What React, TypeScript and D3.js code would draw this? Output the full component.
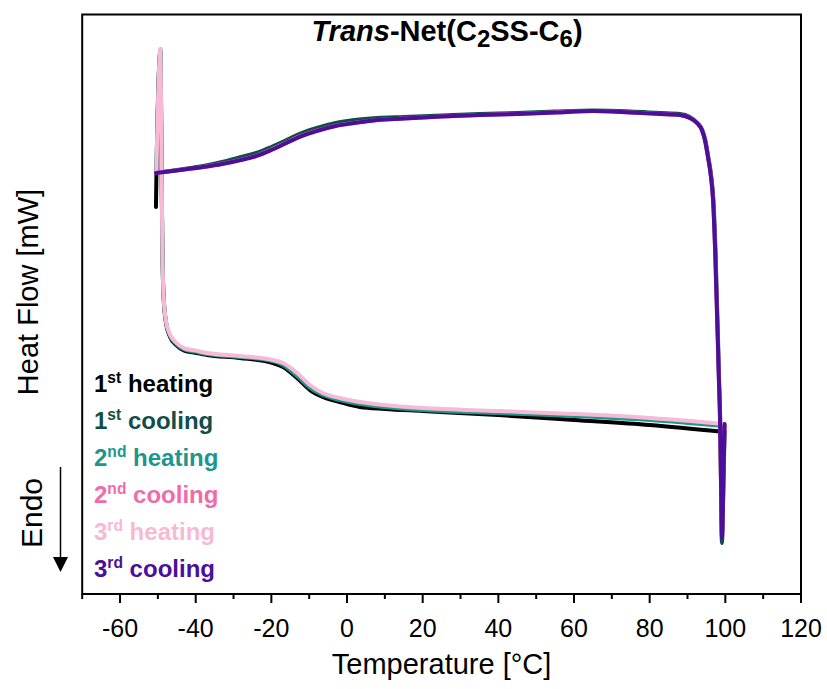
import React from "react";
import * as d3 from "d3";

// Temperature [°C] and heat flow [mW, arbitrary offset]
const heating1: [number, number][] = [
  [-50.5, 6.678], [-50.4, 7.144], [-49.3, 9.353], [-49.0, 7.196], [-48.8, 5.936], [-48.5, 5.14],
  [-47.8, 4.66], [-46.8, 4.44], [-45.2, 4.3], [-43.0, 4.2], [-40, 4.16], [-37, 4.124], [-28.3, 4.073],
  [-19.6, 3.986], [-16.9, 3.917], [-13.2, 3.727], [-9.8, 3.52], [-6.4, 3.4], [-1.9, 3.313],
  [3.4, 3.227], [10, 3.193], [20, 3.158], [40, 3.089], [60, 3.003], [80, 2.916], [99.8, 2.796],
];
const cooling1: [number, number][] = [
  [99.8, 2.796], [99.55, 2.1], [99.1, 0.88], [98.85, 1.95], [98.65, 3.0], [98.35, 3.69],
  [97.4, 5.936], [96.85, 6.8], [96.3, 7.196], [95.5, 7.541], [94.7, 7.834], [93.9, 8.007],
  [92.6, 8.128], [90.6, 8.231], [88.0, 8.283], [82.7, 8.3], [75, 8.326], [65, 8.343],
  [55, 8.326], [45, 8.3], [35, 8.283], [25, 8.257], [15, 8.231], [8, 8.214], [2, 8.18],
  [-3, 8.128], [-8, 8.041], [-12, 7.955], [-16, 7.834], [-20, 7.714], [-24, 7.61],
  [-28, 7.541], [-33, 7.455], [-38, 7.385], [-44, 7.326], [-50.5, 7.265],
];
const heating2: [number, number][] = [
  [-50.4, 7.265], [-49.3, 9.4], [-49.0, 7.23], [-48.8, 5.936], [-48.5, 5.16], [-47.8, 4.68],
  [-46.8, 4.46], [-45.2, 4.32], [-43.0, 4.22], [-40, 4.18], [-37, 4.141], [-28.3, 4.09], [-19.6, 4.021],
  [-16.9, 3.952], [-13.2, 3.762], [-9.8, 3.555], [-6.4, 3.434], [-1.9, 3.348], [3.4, 3.279],
  [10, 3.227], [20, 3.175], [40, 3.123], [60, 3.072], [80, 3.003], [99.8, 2.899],
];
const cooling2: [number, number][] = [
  [99.8, 2.899], [99.55, 2.13], [99.1, 1.01], [98.85, 1.97], [98.6, 3.0], [98.3, 3.69],
  [97.3, 5.936], [96.75, 6.8], [96.2, 7.2], [95.4, 7.545], [94.6, 7.834], [93.8, 8.007],
  [92.5, 8.13], [90.6, 8.214], [88.0, 8.266], [82.7, 8.285], [75, 8.31], [65, 8.335],
  [55, 8.31], [45, 8.285], [35, 8.266], [25, 8.24], [15, 8.205], [8, 8.18], [2, 8.13],
  [-3, 8.08], [-8, 7.995], [-12, 7.91], [-16, 7.79], [-20, 7.67], [-24, 7.565],
  [-28, 7.495], [-33, 7.425], [-38, 7.37], [-44, 7.317], [-50.5, 7.265],
];
const heating3: [number, number][] = [
  [-50.4, 7.265], [-49.3, 9.405], [-49.0, 7.23], [-48.8, 5.936], [-48.5, 5.16], [-47.8, 4.69],
  [-46.8, 4.48], [-45.2, 4.34], [-43.0, 4.24], [-40, 4.2], [-37, 4.159], [-28.3, 4.107], [-19.6, 4.038],
  [-16.9, 3.986], [-13.2, 3.814], [-9.8, 3.607], [-6.4, 3.469], [-1.9, 3.382], [3.4, 3.313],
  [10, 3.261], [20, 3.21], [40, 3.158], [60, 3.106], [80, 3.037], [99.8, 2.934],
];
const cooling3: [number, number][] = [
  [99.8, 2.934], [99.55, 2.14], [99.1, 0.967], [98.85, 1.967], [98.6, 3.003], [98.3, 3.693],
  [97.3, 5.936], [96.75, 6.799], [96.2, 7.196], [95.4, 7.541], [94.6, 7.834], [93.8, 8.007],
  [92.5, 8.128], [90.6, 8.214], [88.0, 8.266], [82.7, 8.283], [75, 8.309], [65, 8.335],
  [55, 8.309], [45, 8.283], [35, 8.266], [25, 8.24], [15, 8.205], [8, 8.18], [2, 8.128],
  [-3, 8.076], [-8, 7.99], [-12, 7.903], [-16, 7.783], [-20, 7.662], [-24, 7.558],
  [-28, 7.489], [-33, 7.42], [-38, 7.368], [-44, 7.317], [-50.5, 7.265],
];

const seriesData = [heating1, cooling1, heating2, cooling2, heating3, cooling3];
const seriesColors = ["#000000", "#104f49", "#1c978d", "#ef6ca8", "#f8b9d6", "#4b0f99"];
const legendOrdinals = ["1", "1", "2", "2", "3", "3"];
const legendSuffixes = ["st", "st", "nd", "nd", "rd", "rd"];
const legendNames = ["heating", "cooling", "heating", "cooling", "heating", "cooling"];
const majorTicks = [-60, -40, -20, 0, 20, 40, 60, 80, 100, 120];
const minorTicks = [-70, -50, -30, -10, 10, 30, 50, 70, 90, 110];

const FONT = "'Liberation Sans', Arial, Helvetica, sans-serif";

export default function App() {
  const W = 827, H = 689;
  const left = 82.2, right = 801, top = 14.5, bottom = 594;
  const x = d3.scaleLinear().domain([-70, 120]).range([left, right]);
  const y = d3.scaleLinear().domain([0, 10]).range([bottom, top]);
  const line = d3
    .line<[number, number]>()
    .x((d) => x(d[0]))
    .y((d) => y(d[1]))
    .curve(d3.curveMonotoneX);

  return (
    <svg
      width={W}
      height={H}
      style={{ position: "fixed", left: 0, top: 0, background: "#fff" }}
      fontFamily={FONT}
    >
      <rect x={0} y={0} width={W} height={H} fill="#fff" />
      <g>
        {seriesData.map((s, i) => (
          <path
            key={i}
            d={line([...s].sort((a, b) => a[0] - b[0])) || ""}
            fill="none"
            stroke={seriesColors[i]}
            strokeWidth={4}
            strokeLinejoin="round"
            strokeLinecap="round"
          />
        ))}
      </g>
      <rect
        x={left}
        y={top}
        width={right - left}
        height={bottom - top}
        fill="none"
        stroke="#000"
        strokeWidth={2}
      />
      {majorTicks.map((t) => (
        <g key={"M" + t}>
          <line x1={x(t)} x2={x(t)} y1={bottom} y2={bottom + 9} stroke="#000" strokeWidth={2} />
          <text x={x(t)} y={637} fontSize={25} textAnchor="middle" fill="#000">
            {t}
          </text>
        </g>
      ))}
      {minorTicks.map((t) => (
        <line key={"m" + t} x1={x(t)} x2={x(t)} y1={bottom} y2={bottom + 5} stroke="#000" strokeWidth={2} />
      ))}
      <text x={(left + right) / 2} y={674} fontSize={29} textAnchor="middle" fill="#000">
        Temperature [°C]
      </text>
      <text
        transform="translate(37.5,292) rotate(-90)"
        fontSize={29}
        textAnchor="middle"
        fill="#000"
      >
        Heat Flow [mW]
      </text>
      <text
        transform="translate(42,513) rotate(-90)"
        fontSize={30}
        textAnchor="middle"
        fill="#000"
      >
        Endo
      </text>
      <line x1={60.5} x2={60.5} y1={467} y2={560} stroke="#000" strokeWidth={1.5} />
      <path d="M53,557 L68,557 L60.5,572 Z" fill="#000" />
      <text x={447} y={41} fontSize={29} fontWeight="bold" textAnchor="middle" fill="#000">
        <tspan fontStyle="italic">Trans</tspan>
        <tspan>-Net(C</tspan>
        <tspan fontSize={24} dy={6}>2</tspan>
        <tspan dy={-6}>SS-C</tspan>
        <tspan fontSize={24} dy={6}>6</tspan>
        <tspan dy={-6}>)</tspan>
      </text>
      {legendNames.map((n, i) => (
        <text
          key={"L" + i}
          x={94}
          y={392 + 37 * i}
          fontSize={24}
          fontWeight="bold"
          fill={seriesColors[i]}
          style={{ whiteSpace: "pre" }}
        >
          <tspan>{legendOrdinals[i]}</tspan>
          <tspan fontSize={15.6} dy={-9}>{legendSuffixes[i]}</tspan>
          <tspan dy={9}>{" " + n}</tspan>
        </text>
      ))}
    </svg>
  );
}
